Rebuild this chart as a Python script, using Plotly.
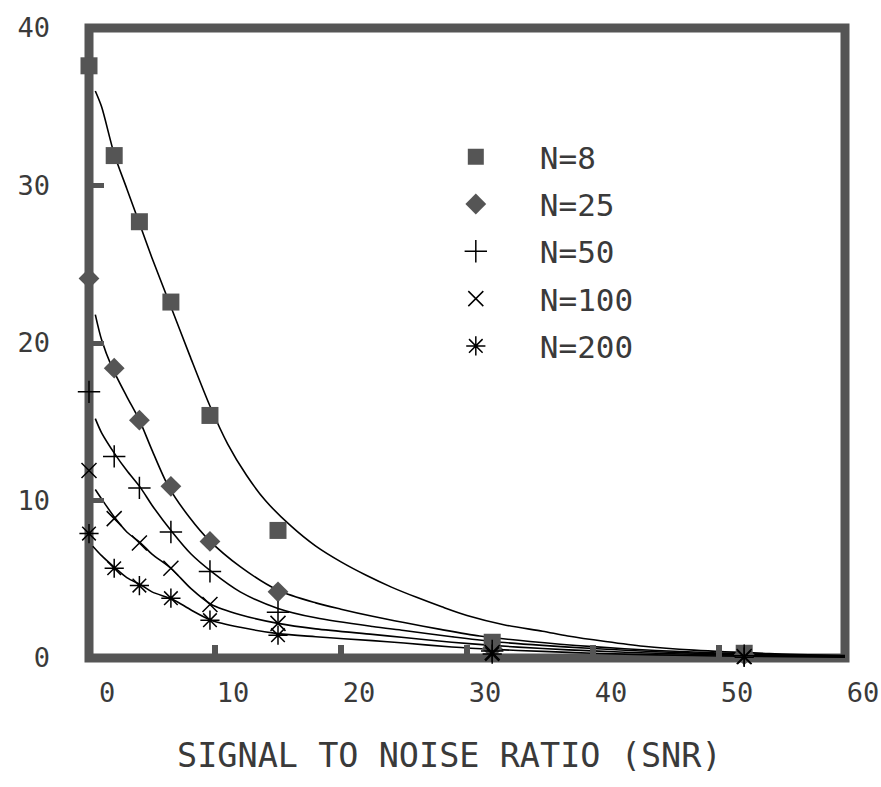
import plotly.graph_objects as go

# ---- data ----
snr = [0, 2, 4, 6.5, 9.6, 15, 32, 52]
n8 = [37.6, 31.9, 27.7, 22.6, 15.4, 8.1, 1.0, 0.3]
n25 = [24.1, 18.4, 15.1, 10.9, 7.4, 4.2, 0.6, 0.2]
n50 = [16.9, 12.8, 10.8, 8.0, 5.5, 2.9, 0.45, 0.15]
n100 = [11.9, 8.85, 7.3, 5.7, 3.4, 2.2, 0.35, 0.1]
n200 = [7.9, 5.7, 4.6, 3.8, 2.4, 1.45, 0.25, 0.05]

# fitted curves
fit8_x = [0.5, 1, 2, 3, 4, 5, 6.5, 8, 9.6, 11, 12.5, 14, 16, 18, 20, 22, 24, 26, 28, 30, 33, 36, 38, 41, 44, 48, 54, 60]
fit8_y = [36, 35, 32, 29.8, 27.6, 25.4, 22.3, 19.2, 16, 13.6, 11.6, 10.0, 8.4, 7.1, 6.1, 5.25, 4.5, 3.85, 3.25, 2.7, 2.1, 1.7, 1.4, 1.05, 0.75, 0.5, 0.28, 0.15]
fit25_x = [0.5, 1, 1.8, 3, 4, 5, 6.3, 8, 9.5, 12, 15, 18, 20, 22.5, 25, 28, 31, 35, 40, 45, 50, 55, 60]
fit25_y = [21.8, 20.2, 18.5, 16.6, 15.1, 13.2, 10.9, 8.9, 7.5, 5.8, 4.3, 3.5, 3.1, 2.65, 2.25, 1.8, 1.4, 1.05, 0.72, 0.48, 0.32, 0.2, 0.12]
fit50_x = [0.5, 1, 2.1, 3, 4.1, 5, 6.6, 8.1, 9.7, 12, 15, 18, 22.5, 25, 28.8, 32, 36, 40, 45, 50, 55, 60]
fit50_y = [15.2, 14.3, 12.9, 11.9, 10.8, 9.7, 8.0, 6.6, 5.5, 4.2, 3.15, 2.55, 2.0, 1.75, 1.35, 1.05, 0.8, 0.6, 0.4, 0.26, 0.17, 0.1]
fit100_x = [0.5, 1, 2.1, 3, 4.1, 5, 6.5, 8.1, 9.7, 12, 15, 18, 22.5, 25, 28.8, 32, 36, 40, 45, 50, 60]
fit100_y = [10.7, 10.1, 8.85, 8.0, 7.3, 6.6, 5.7, 4.4, 3.4, 2.75, 2.2, 1.85, 1.5, 1.3, 1.0, 0.8, 0.6, 0.45, 0.3, 0.2, 0.08]
fit200_x = [0.3, 1, 2.1, 3, 4.2, 5, 6.7, 8.1, 9.7, 12, 15, 18, 22.5, 25, 28.8, 32, 36, 40, 45, 50, 60]
fit200_y = [7.1, 6.5, 5.7, 5.1, 4.6, 4.2, 3.7, 3.05, 2.4, 1.95, 1.55, 1.35, 1.1, 0.95, 0.7, 0.55, 0.42, 0.3, 0.2, 0.13, 0.05]

labels = ["N=8", "N=25", "N=50", "N=100", "N=200"]
x_ticks = [0, 10, 20, 30, 40, 50, 60]
y_ticks = [0, 10, 20, 30, 40]

FRAME = "#555555"
FONT = "DejaVu Sans Mono"
TXT = "#3a3a3a"

fig = go.Figure()

fits = [(fit8_x, fit8_y), (fit25_x, fit25_y), (fit50_x, fit50_y),
        (fit100_x, fit100_y), (fit200_x, fit200_y)]
for fx, fy in fits:
    fig.add_trace(go.Scatter(x=fx, y=fy, mode="lines", showlegend=False,
                             line=dict(color="black", width=1.6, shape="spline", smoothing=0.8),
                             hoverinfo="skip"))

series = [n8, n25, n50, n100, n200]
styles = [
    dict(symbol="square", size=17, color=FRAME, line=dict(width=0)),
    dict(symbol="diamond", size=16, color=FRAME, line=dict(width=0)),
    dict(symbol="cross-thin-open", size=16, color="black", line=dict(width=1.5, color="black")),
    dict(symbol="x-thin-open", size=15, color="black", line=dict(width=1.5, color="black")),
    dict(symbol="asterisk-open", size=16, color="black", line=dict(width=1.5, color="black")),
]
for lab, ys, st in zip(labels, series, styles):
    fig.add_trace(go.Scatter(x=snr, y=ys, mode="markers", name=lab, legendgroup=lab,
                             marker=st, cliponaxis=False))

fig.add_shape(type="rect", xref="paper", yref="paper", x0=0, x1=1, y0=0, y1=1,
              line=dict(color=FRAME, width=9), layer="below")

fig.add_annotation(text="SIGNAL TO NOISE RATIO (SNR)", xref="paper", yref="paper",
                   x=0.4775, y=-0.154, xanchor="center", yanchor="middle", showarrow=False,
                   font=dict(family=FONT, size=33.5, color=TXT))

fig.update_xaxes(range=[0, 60], tickvals=x_ticks, ticktext=[str(v) for v in x_ticks],
                 showgrid=False, zeroline=False, showline=False, automargin=False,
                 ticks="inside", ticklen=13, tickwidth=6, tickcolor=FRAME,
                 ticklabelshift=18, ticklabelstandoff=16,
                 tickfont=dict(family=FONT, size=27, color=TXT))
fig.update_yaxes(range=[0, 40], tickvals=y_ticks, ticktext=[str(v) for v in y_ticks],
                 showgrid=False, zeroline=False, showline=False, automargin=False,
                 ticks="inside", ticklen=15, tickwidth=5, tickcolor=FRAME,
                 ticklabelstandoff=38,
                 tickfont=dict(family=FONT, size=27, color=TXT))

fig.update_layout(
    width=881, height=787,
    margin=dict(l=89, r=36, t=28, b=129, autoexpand=False),
    paper_bgcolor="white", plot_bgcolor="white",
    legend=dict(x=0.427, y=0.838, xanchor="left", yanchor="top",
                font=dict(family=FONT, size=31, color=TXT),
                itemwidth=118, tracegroupgap=4, bgcolor="rgba(0,0,0,0)"),
)

fig.write_html("out.html")
